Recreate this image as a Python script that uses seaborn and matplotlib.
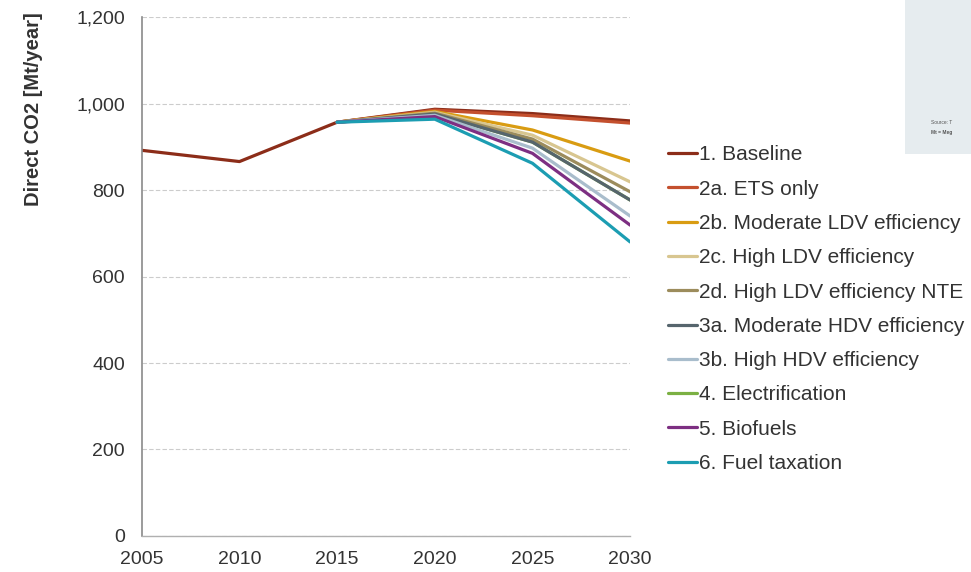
import matplotlib
matplotlib.use("Agg")
import matplotlib.pyplot as plt
import matplotlib.ticker as mticker
import seaborn as sns
import pandas as pd

sns.set_theme(style="white")
plt.rcParams['font.family'] = ['Liberation Sans', 'DejaVu Sans']

scenarios = ["1. Baseline", "2a. ETS only", "2b. Moderate LDV efficiency",
             "2c. High LDV efficiency", "2d. High LDV efficiency NTE",
             "3a. Moderate HDV efficiency", "3b. High HDV efficiency",
             "4. Electrification", "5. Biofuels", "6. Fuel taxation"]
colors = ["#8c2d19", "#c4502e", "#d99c12", "#d8c690", "#9c8c5c",
          "#56656d", "#a9bdcc", "#7bb043", "#7d2f82", "#1c9db2"]

baseline_years = [2005, 2010, 2015, 2020, 2025, 2030]
baseline_vals = [892, 866, 957, 987, 977, 960]

scen_years = [2015, 2020, 2025, 2030]
ets_vals = [957, 985, 972, 955]
ldv_mod_vals = [957, 982, 939, 867]
ldv_high_vals = [957, 980, 927, 819]
ldv_nte_vals = [957, 978, 918, 796]
hdv_mod_vals = [957, 976, 911, 777]
hdv_high_vals = [957, 973, 897, 740]
elec_vals = [957, 976, 911, 777]
bio_vals = [957, 970, 885, 719]
tax_vals = [957, 964, 862, 680]

series = [baseline_vals, ets_vals, ldv_mod_vals, ldv_high_vals, ldv_nte_vals,
          hdv_mod_vals, hdv_high_vals, elec_vals, bio_vals, tax_vals]

rows = []
for name, vals in zip(scenarios, series):
    yrs = baseline_years if len(vals) == len(baseline_years) else scen_years
    for y, v in zip(yrs, vals):
        rows.append({"Year": y, "CO2": v, "Scenario": name})
df = pd.DataFrame(rows)

fig = plt.figure(figsize=(9.71, 5.72), dpi=100)
ax = fig.add_axes([0.146, 0.063, 0.503, 0.907])

sns.lineplot(data=df, x="Year", y="CO2", hue="Scenario", hue_order=scenarios,
             palette=colors, linewidth=2.3, ax=ax, legend=True)

# electrification line hidden beneath the others
data_lines = ax.get_lines()[:len(scenarios)]
elec_idx = scenarios.index("4. Electrification")
for i, ln in enumerate(data_lines):
    ln.set_zorder(1.5 if i == elec_idx else 2 + i * 0.01)

ax.set_xlim(2005, 2030)
ax.set_ylim(0, 1200)
ax.set_xticks([2005, 2010, 2015, 2020, 2025, 2030])
ax.set_yticks(range(0, 1201, 200))
ax.yaxis.set_major_formatter(mticker.FuncFormatter(lambda v, p: f"{int(v):,}"))
ax.grid(axis="y", linestyle=(0, (4, 2)), color="#cccccc", linewidth=0.8)
ax.set_axisbelow(True)
for s in ["top", "right"]:
    ax.spines[s].set_visible(False)
ax.spines["left"].set_color("#8a8a8a")
ax.spines["left"].set_linewidth(1.2)
ax.spines["bottom"].set_color("#b0b0b0")
ax.spines["bottom"].set_linewidth(1.0)
ax.tick_params(axis="both", labelsize=14, colors="#333333")
ax.tick_params(axis="y", length=0, pad=12)
ax.tick_params(axis="x", length=3, width=0.8, color="#b0b0b0", direction="out", pad=8)
ax.set_xlabel("")
ax.set_ylabel("")
fig.text(0.034, 0.809, "Direct CO2 [Mt/year]", rotation=90, ha="center", va="center",
         fontsize=14.5, fontweight="bold", color="#333333")

handles, labels = ax.get_legend_handles_labels()
ax.legend_.remove()
fig.legend(handles, labels, loc="upper left", bbox_to_anchor=(0.688, 0.746),
           frameon=False, fontsize=15, handlelength=1.4, handletextpad=0.1,
           labelspacing=0.735, borderaxespad=0, borderpad=0,
           labelcolor="#333333")

# cropped source box at top right
fig.patches.append(plt.Rectangle((0.932, 0.73), 0.07, 0.28, transform=fig.transFigure,
                                 facecolor="#e6ecef", edgecolor="none"))
fig.text(0.959, 0.783, "Source: T", fontsize=3.5, color="#555555")
fig.text(0.959, 0.766, "Mt = Meg", fontsize=3.5, color="#555555", fontweight="bold")

fig.savefig("out.png", dpi=100)
